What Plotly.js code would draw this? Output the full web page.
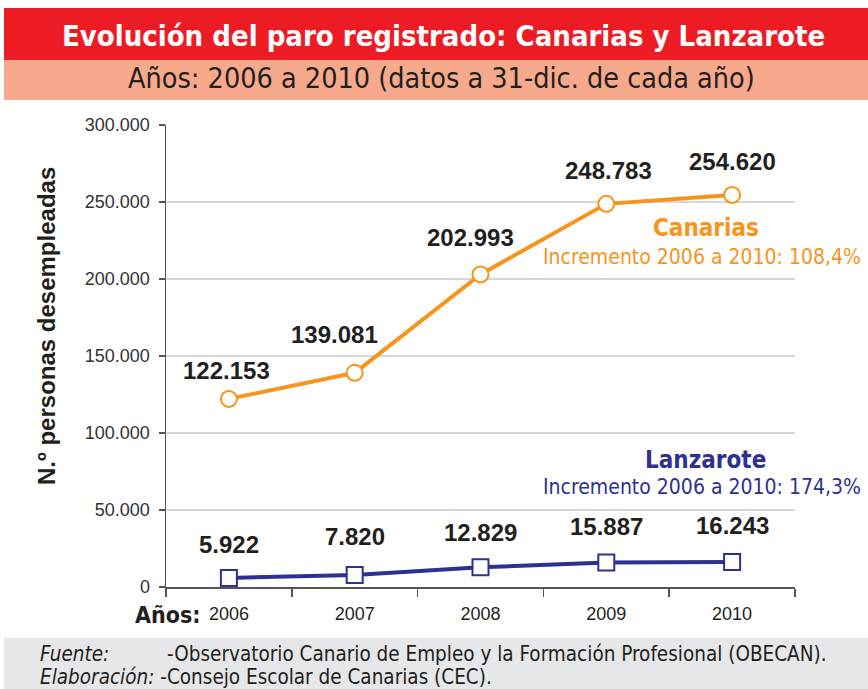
<!DOCTYPE html>
<html>
<head>
<meta charset="utf-8">
<script src="https://cdn.plot.ly/plotly-3.0.1.min.js"></script>
<style>html,body{margin:0;padding:0;background:#fff;}#chart{width:868px;height:689px;}</style>
</head>
<body>
<div id="chart"></div>
<script>
var years = ["2006", "2007", "2008", "2009", "2010"];
var canarias = [122153, 139081, 202993, 248783, 254620];
var lanzarote = [5922, 7820, 12829, 15887, 16243];
var yTicks = [0, 50000, 100000, 150000, 200000, 250000, 300000];
var yTickLabels = ["0", "50.000", "100.000", "150.000", "200.000", "250.000", "300.000"];

var W = 868, H = 689, L = 166, R = 795, T = 125, B = 587;
function px(x){ return (x - L) / (R - L); }
function py(y){ return (B - y) / (B - T); }
function fmt(v){ return v.toString().replace(/\B(?=(\d{3})+(?!\d))/g, "."); }

var narrow = "Liberation Sans Narrow, DejaVu Sans Condensed, Arial Narrow, sans-serif";
var sans = "Liberation Sans, Arial, sans-serif";
var orange = "#F7941D", navy = "#2E3192";

var traces = [
  {x: years, y: canarias, type: "scatter", mode: "lines+markers", cliponaxis: false,
   line: {color: orange, width: 4},
   marker: {symbol: "circle", size: 16, color: "#fff", line: {color: orange, width: 2}}},
  {x: years, y: lanzarote, type: "scatter", mode: "lines+markers", cliponaxis: false,
   line: {color: navy, width: 4},
   marker: {symbol: "square", size: 16, color: "#fff", line: {color: navy, width: 2}}}
];

var canXShift = [-2, -20, -10, 2, 0];
var canYShift = [28, 38, 37, 33, 33];
var lanYShift = [33, 38, 35, 36, 36];
var annotations = [];
canarias.forEach(function(v, i){
  annotations.push({x: i, y: v, xref: "x", yref: "y", text: "<b>" + fmt(v) + "</b>", showarrow: false,
    xshift: canXShift[i], yshift: canYShift[i], xanchor: "center", yanchor: "middle",
    font: {family: sans, size: 24, color: "#231F20"}});
});
lanzarote.forEach(function(v, i){
  annotations.push({x: i, y: v, xref: "x", yref: "y", text: "<b>" + fmt(v) + "</b>", showarrow: false,
    yshift: lanYShift[i], xanchor: "center", yanchor: "middle",
    font: {family: sans, size: 24, color: "#231F20"}});
});
annotations.push(
  {xref: "paper", yref: "paper", x: px(443), y: py(36), text: "<b>Evolución del paro registrado: Canarias y Lanzarote</b>",
   showarrow: false, xanchor: "center", yanchor: "middle", font: {family: narrow, size: 29, color: "#fff"}},
  {xref: "paper", yref: "paper", x: px(441), y: py(79), text: "Años: 2006 a 2010 (datos a 31-dic. de cada año)",
   showarrow: false, xanchor: "center", yanchor: "middle", font: {family: narrow, size: 28.5, color: "#231F20"}},
  {xref: "paper", yref: "paper", x: px(46), y: py(326), text: "<b>N.º personas desempleadas</b>", textangle: -90,
   showarrow: false, xanchor: "center", yanchor: "middle", font: {family: sans, size: 24, color: "#231F20"}},
  {xref: "paper", yref: "paper", x: px(706), y: py(228), text: "<b>Canarias</b>",
   showarrow: false, xanchor: "center", yanchor: "middle", font: {family: narrow, size: 24, color: orange}},
  {xref: "paper", yref: "paper", x: px(863), y: py(257), text: "Incremento 2006 a 2010: 108,4%",
   showarrow: false, xanchor: "right", yanchor: "middle", font: {family: narrow, size: 21, color: orange}},
  {xref: "paper", yref: "paper", x: px(705), y: py(460), text: "<b>Lanzarote</b>",
   showarrow: false, xanchor: "center", yanchor: "middle", font: {family: narrow, size: 24, color: navy}},
  {xref: "paper", yref: "paper", x: px(863), y: py(487), text: "Incremento 2006 a 2010: 174,3%",
   showarrow: false, xanchor: "right", yanchor: "middle", font: {family: narrow, size: 21, color: navy}},
  {xref: "paper", yref: "paper", x: px(133), y: py(615), text: "<b>Años:</b>",
   showarrow: false, xanchor: "left", yanchor: "middle", font: {family: narrow, size: 23, color: "#231F20"}},
  {xref: "paper", yref: "paper", x: px(38), y: py(654), text: "<i>Fuente:</i>",
   showarrow: false, xanchor: "left", yanchor: "middle", font: {family: narrow, size: 20.5, color: "#231F20"}},
  {xref: "paper", yref: "paper", x: px(165), y: py(654), text: "-Observatorio Canario de Empleo y la Formación Profesional (OBECAN).",
   showarrow: false, xanchor: "left", yanchor: "middle", font: {family: narrow, size: 20.5, color: "#231F20"}},
  {xref: "paper", yref: "paper", x: px(38), y: py(677), text: "<i>Elaboración:</i> -Consejo Escolar de Canarias (CEC).",
   showarrow: false, xanchor: "left", yanchor: "middle", font: {family: narrow, size: 20.5, color: "#231F20"}}
);

var shapes = [
  {type: "rect", xref: "paper", yref: "paper", x0: px(4), x1: px(870), y0: py(8), y1: py(60), fillcolor: "#ED1C24", line: {width: 0}, layer: "below"},
  {type: "rect", xref: "paper", yref: "paper", x0: px(4), x1: px(870), y0: py(60), y1: py(100), fillcolor: "#F7A98B", line: {width: 0}, layer: "below"},
  {type: "rect", xref: "paper", yref: "paper", x0: px(4), x1: px(870), y0: py(638), y1: py(691), fillcolor: "#E6E7E8", line: {width: 0}, layer: "below"}
];

var layout = {
  width: W, height: H,
  margin: {l: L, r: W - R, t: T, b: H - B, pad: 0},
  paper_bgcolor: "#fff", plot_bgcolor: "#fff",
  showlegend: false,
  xaxis: {type: "category", range: [-0.5, 4.5], showgrid: false, zeroline: false,
    showline: true, linecolor: "#555", linewidth: 1.5,
    ticks: "outside", tickson: "boundaries", ticklen: 8, tickcolor: "#555", tickwidth: 1.5,
    ticklabelstandoff: 10,
    tickfont: {family: sans, size: 18, color: "#231F20"}, fixedrange: true},
  yaxis: {range: [0, 300000], tickvals: yTicks, ticktext: yTickLabels,
    showgrid: true, gridcolor: "#D6D6D6", gridwidth: 1.5, zeroline: false,
    showline: true, linecolor: "#555", linewidth: 1.5,
    ticks: "outside", ticklen: 6, tickcolor: "#555", tickwidth: 1.5,
    ticklabelstandoff: 5,
    tickfont: {family: sans, size: 18, color: "#333"}, fixedrange: true},
  annotations: annotations,
  shapes: shapes
};

Plotly.newPlot("chart", traces, layout, {displayModeBar: false, staticPlot: true});
</script>
</body>
</html>
